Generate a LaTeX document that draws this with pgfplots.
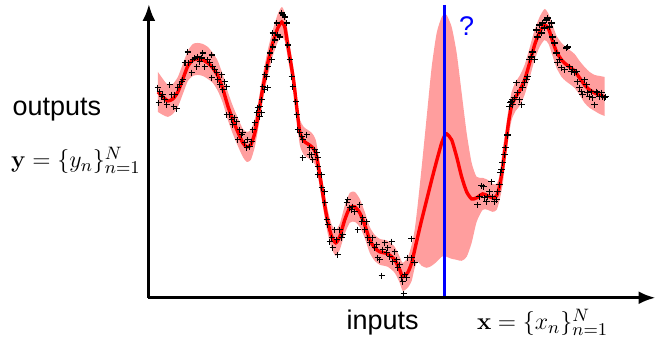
\documentclass[border=0pt]{standalone}
\usepackage[no-math]{fontspec}
\setmainfont{Liberation Sans}
\usepackage{pgfplots}
\usepackage{pgfplotstable}
\pgfplotsset{compat=1.18}
\usepgfplotslibrary{fillbetween}
\usetikzlibrary{arrows.meta}
\definecolor{band}{RGB}{255,158,158}

\pgfplotstableread{
x mean hi lo
158 92 72 112
163 97 79 115
168 101 85 117
173 99 84 114
178 92 77 107
183 79 64 94
188 66 51 81
193 60 44 76
198 59 43 75
203 60 44 76
208 63 47 79
213 68 53 83
218 76 61 91
223 89 75 103
228 106 92 120
233 120 106 134
238 132 118 146
243 143 129 157
247 147 132 162
251 145 130 160
255 133 119 147
259 112 99 125
263 88 75 101
268 63 50 76
273 43 30 56
278 28 14 42
282 22 7 37
285 27 13 41
288 45 32 58
291 63 51 75
294 82 70 94
297 108 96 120
300 132 119 145
304 141 127 155
308 144 130 158
312 147 133 161
316 153 140 166
320 175 163 187
324 200 188 212
328 222 210 234
332 237 225 249
336 243 230 256
340 237 224 250
345 220 206 234
350 208 193 223
355 207 192 222
360 213 199 227
365 225 212 238
370 240 227 253
375 248 235 261
380 252 239 265
388 254 241 267
395 260 247 273
400 270 257 283
403 277 263 291
408 273 258 288
412 263 245 281
415 250 230 268
418 237 205 262
422 220 167 266
427 200 117 268
432 180 67 266
437 161 33 262
442 143 17 257
445 136 14 256
447 134 15 257
452 140 27 259
457 157 53 260
462 177 93 261
467 192 133 257
472 199 163 243
477 198 177 222
483 194 178 210
488 196 180 210
493 198 184 212
497 196 184 210
500 186 175 200
503 168 150 185
506 145 130 160
509 122 108 137
512 106 92 120
516 97 82 111
520 91 76 106
525 80 65 95
530 63 48 78
535 45 30 60
540 32 17 47
545 25 9 40
549 29 14 44
553 41 25 56
557 52 36 68
562 60 43 77
566 64 47 81
570 67 50 84
575 71 54 88
580 78 61 95
585 85 67 103
590 90 72 108
595 93 75 111
600 95 76 114
605 97 77 116
}\gp

\pgfplotstableread{
x y
158 88
160 92
162 97
159 103
163 95
165 100
167 105
170 85
172 95
174 107
175 95
177 109
178 88
180 85
182 82
183 80
185 63
186 63
188 52
189 63
192 73
193 60
195 58
197 67
198 57
200 62
202 58
203 53
205 67
208 60
210 63
212 55
212 78
213 67
215 70
217 73
218 80
220 85
222 75
223 90
225 82
227 87
227 115
230 115
232 120
235 118
233 125
237 122
240 130
242 135
243 133
238 140
245 143
247 148
250 147
248 140
252 142
253 130
255 123
257 113
258 108
260 117
262 100
265 90
267 77
268 67
268 88
260 107
262 113
263 87
265 75
267 67
270 53
272 60
273 47
275 40
273 33
277 23
278 35
280 37
282 13
283 15
285 17
287 23
288 45
290 60
292 77
293 87
296 102
297 115
298 130
300 133
302 137
303 140
307 135
310 148
312 155
315 150
317 153
318 158
303 158
310 155
313 160
318 167
318 175
322 175
322 188
325 192
325 203
327 220
328 225
332 238
330 242
333 248
335 230
337 240
338 255
340 230
342 238
343 235
347 203
348 200
350 208
352 210
353 207
355 212
358 230
360 205
362 222
363 218
365 230
367 222
368 238
370 243
373 238
375 248
377 245
378 258
380 260
382 276
383 250
385 243
387 253
388 248
390 257
392 242
393 262
395 252
397 260
398 268
400 265
402 278
403 282
405 275
407 278
404 294
408 258
412 258
415 263
412 239
478 205
480 197
482 186
484 187
485 198
487 202
488 197
490 192
492 182
493 197
495 202
497 200
498 192
500 185
501 173
502 170
503 163
505 155
506 148
508 135
510 107
512 102
513 100
508 136
511 103
513 105
515 98
517 83
518 93
520 100
522 105
523 88
525 83
527 80
528 77
530 60
532 57
533 52
535 60
537 30
538 37
540 25
542 33
543 23
545 28
547 20
548 18
550 27
552 23
553 37
555 43
557 53
558 63
560 60
562 68
565 70
567 48
568 47
570 67
572 72
573 70
575 73
577 72
578 82
580 88
582 92
583 95
585 80
587 85
588 93
590 97
592 92
593 98
595 105
597 92
598 93
600 97
602 93
603 97
605 98
606 97
}\pts

\begin{document}
\begin{tikzpicture}
\begin{axis}[
  scale only axis, width=328.5pt, height=168.5pt,
  xmin=0, xmax=657, ymin=0, ymax=337, y dir=reverse,
  hide axis, clip=false,
]
\path (axis cs:0,0) rectangle (axis cs:657,337);
\addplot[name path=hi, draw=none, smooth, tension=0.4] table[x=x, y=hi] {\gp};
\addplot[name path=lo, draw=none, smooth, tension=0.4] table[x=x, y=lo] {\gp};
\addplot[fill=band, draw=none] fill between[of=hi and lo];
\addplot[red, line width=1.7pt, smooth, tension=0.4] table[x=x, y=mean] {\gp};
\addplot[only marks, mark=+, mark size=1.6pt, black, mark options={line width=0.55pt}] table[x=x, y=y] {\pts};
\addplot[blue, line width=1.5pt] coordinates {(445,5) (445,298)};
\draw[line width=1.5pt, -{Latex[length=8.5pt,width=6.5pt]}] (axis cs:149,298) -- (axis cs:149,4);
\draw[line width=1.5pt, -{Latex[length=8.5pt,width=6.5pt]}] (axis cs:148,298) -- (axis cs:656,298);
\node[anchor=base, font=\fontsize{13.5}{16}\selectfont, inner sep=0pt] at (axis cs:57,116) {outputs};
\node[anchor=base, font=\fontsize{13}{16}\selectfont, inner sep=0pt] at (axis cs:76,168) {$\mathbf{y}=\{y_n\}_{n=1}^{N}$};
\node[anchor=base, font=\fontsize{13.5}{16}\selectfont, inner sep=0pt] at (axis cs:383,330) {inputs};
\node[anchor=base, font=\fontsize{13}{16}\selectfont, inner sep=0pt] at (axis cs:543,330) {$\mathbf{x}=\{x_n\}_{n=1}^{N}$};
\node[anchor=base, font=\fontsize{13.5}{16}\selectfont, text=blue, inner sep=0pt] at (axis cs:467,36) {?};
\end{axis}
\end{tikzpicture}
\end{document}
